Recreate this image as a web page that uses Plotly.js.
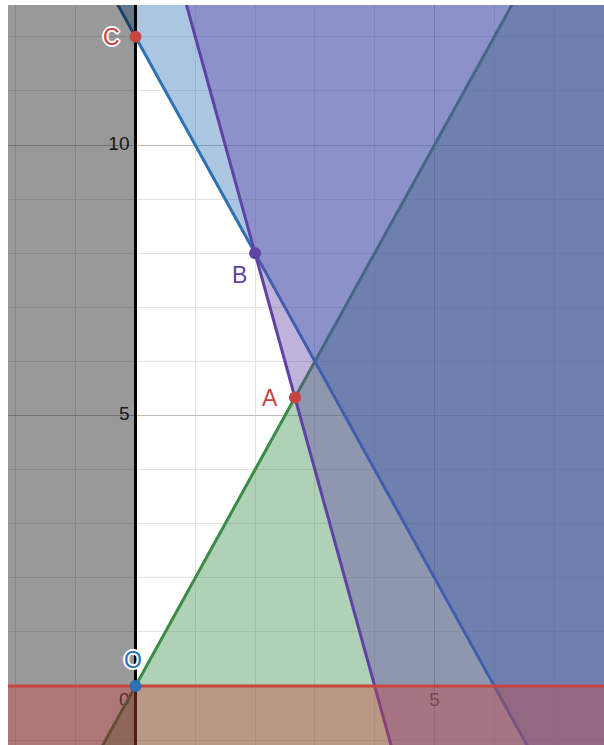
<!DOCTYPE html>
<html>
<head>
<meta charset="utf-8">
<script src="https://cdn.plot.ly/plotly-3.0.1.min.js"></script>
<style>
  html, body { margin: 0; padding: 0; background: white; }
  #chart { width: 604px; height: 745px; }
</style>
</head>
<body>
<div id="chart"></div>
<script>
// Feasible-region sketch: each constraint is coefX*x + coefY*y <= bound,
// the shaded side is the one that satisfies it (Desmos style).
const regionNames = ["y ≤ 2x", "y ≥ -2x + 12", "y ≥ -4x + 16", "x ≤ 0", "y ≤ 0"];
const coefX = [-2, -2, -4, 1, 0];
const coefY = [1, -1, -1, 0, 1];
const bound = [0, -12, -16, 0, 0];

const pointNames = ["C", "B", "A", "O"];
const pointX = [0, 2, 2.667, 0];
const pointY = [12, 8, 5.333, 0];

const xTickVals = [0, 5];
const yTickVals = [5, 10];

(function () {
  const regionColors = ["#388c46", "#2d70b3", "#6042a6", "#000000", "#c74440"];
  const pointColors = ["#c74440", "#6042a6", "#c74440", "#2d70b3"];
  const labelShift = [[-24, 0], [-16, -22], [-25, 0], [-2, 26]];

  const xRange = [-2.132, 7.835];
  const yRange = [-1.09, 12.588];
  const pad = 1;
  const x0 = xRange[0] - pad, x1 = xRange[1] + pad;
  const y0 = yRange[0] - pad, y1 = yRange[1] + pad;

  function rgba(hex, a) {
    const n = parseInt(hex.slice(1), 16);
    return `rgba(${(n >> 16) & 255},${(n >> 8) & 255},${n & 255},${a})`;
  }

  // keep the part of poly where a*x + b*y <= c
  function clipHalfPlane(poly, a, b, c) {
    const out = [];
    for (let i = 0; i < poly.length; i++) {
      const p = poly[i];
      const q = poly[(i + 1) % poly.length];
      const fp = a * p[0] + b * p[1] - c;
      const fq = a * q[0] + b * q[1] - c;
      if (fp <= 0) out.push(p);
      if ((fp < 0 && fq > 0) || (fp > 0 && fq < 0)) {
        const t = fp / (fp - fq);
        out.push([p[0] + t * (q[0] - p[0]), p[1] + t * (q[1] - p[1])]);
      }
    }
    return out;
  }

  const box = [[x0, y0], [x1, y0], [x1, y1], [x0, y1]];
  const traces = [];
  const tickFont = { family: "Liberation Sans, Arial, sans-serif", size: 19, color: "#2a2a2a" };

  // tick labels first so the shading lies over them
  traces.push({
    type: "scatter",
    mode: "markers+text",
    x: xTickVals,
    y: xTickVals.map(() => 0),
    text: xTickVals.map(String),
    textposition: xTickVals.map(v => (v === 0 ? "bottom left" : "bottom center")),
    textfont: tickFont,
    marker: { size: 8, color: "rgba(0,0,0,0)" },
    hoverinfo: "skip",
    showlegend: false
  });
  traces.push({
    type: "scatter",
    mode: "markers+text",
    x: yTickVals.map(() => 0),
    y: yTickVals,
    text: yTickVals.map(String),
    textposition: "middle left",
    textfont: tickFont,
    marker: { size: 8, color: "rgba(0,0,0,0)" },
    hoverinfo: "skip",
    showlegend: false
  });

  regionNames.forEach((name, i) => {
    const poly = clipHalfPlane(box, coefX[i], coefY[i], bound[i]);
    traces.push({
      type: "scatter",
      mode: "lines",
      x: poly.map(p => p[0]).concat([poly[0][0]]),
      y: poly.map(p => p[1]).concat([poly[0][1]]),
      fill: "toself",
      fillcolor: rgba(regionColors[i], 0.4),
      line: { width: 0 },
      name,
      hoverinfo: "skip",
      showlegend: false
    });
    let lx, ly;
    if (coefY[i] !== 0) {
      lx = [x0, x1];
      ly = lx.map(x => (bound[i] - coefX[i] * x) / coefY[i]);
    } else {
      lx = [bound[i] / coefX[i], bound[i] / coefX[i]];
      ly = [y0, y1];
    }
    traces.push({
      type: "scatter",
      mode: "lines",
      x: lx,
      y: ly,
      line: { color: regionColors[i], width: 3 },
      name,
      hoverinfo: "skip",
      showlegend: false
    });
  });

  traces.push({
    type: "scatter",
    mode: "markers",
    x: pointX,
    y: pointY,
    text: pointNames,
    marker: { size: 12, color: pointColors },
    hovertemplate: "%{text} (%{x}, %{y})<extra></extra>",
    showlegend: false
  });

  const halo = "1px 1px 0 #fff, -1px -1px 0 #fff, 1px -1px 0 #fff, -1px 1px 0 #fff, " +
    "2px 0 0 #fff, -2px 0 0 #fff, 0 2px 0 #fff, 0 -2px 0 #fff, 0 0 3px #fff";

  const annotations = pointNames.map((n, i) => ({
    x: pointX[i],
    y: pointY[i],
    xref: "x",
    yref: "y",
    text: n,
    showarrow: false,
    xshift: labelShift[i][0],
    yshift: labelShift[i][1],
    font: {
      family: "Liberation Sans, Arial, sans-serif",
      size: 23,
      color: pointColors[i],
      shadow: halo
    }
  }));

  const axisBase = {
    showticklabels: false,
    ticks: "",
    zeroline: false,
    showline: false,
    dtick: 5,
    tick0: 0,
    showgrid: true,
    gridcolor: "#bcbcbc",
    gridwidth: 1,
    minor: { dtick: 1, tick0: 0, showgrid: true, gridcolor: "#e3e3e3", gridwidth: 1, ticks: "" },
    fixedrange: true
  };

  Plotly.newPlot("chart", traces, {
    width: 604,
    height: 745,
    margin: { l: 8, r: 0, t: 5, b: 0 },
    paper_bgcolor: "white",
    plot_bgcolor: "white",
    showlegend: false,
    hovermode: "closest",
    xaxis: { ...axisBase, range: xRange },
    yaxis: { ...axisBase, range: yRange },
    annotations
  }, { displayModeBar: false });
})();
</script>
</body>
</html>
